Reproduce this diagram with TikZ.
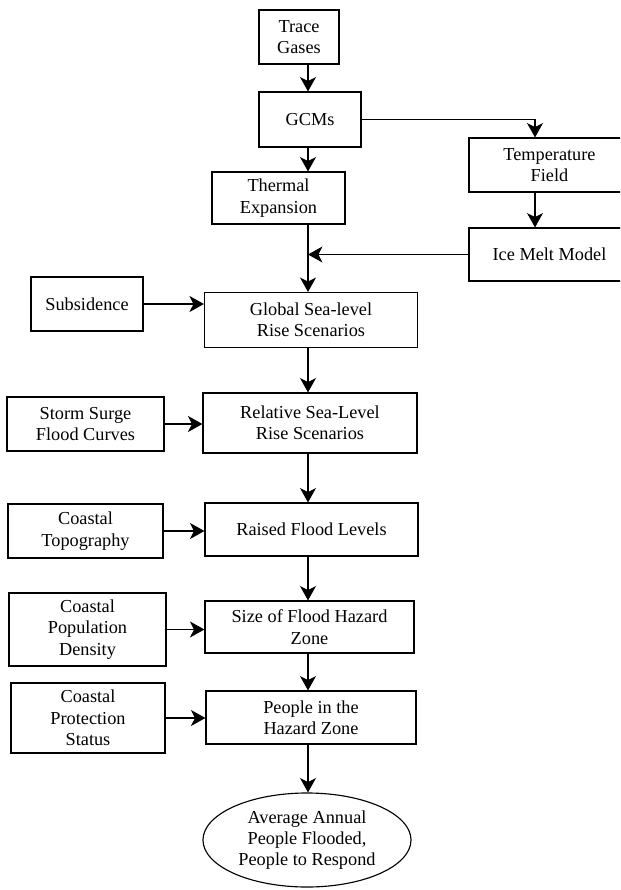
\documentclass[tikz,border=0pt]{standalone}
\usepackage{fontspec}
\setmainfont{Liberation Serif}
\usetikzlibrary{arrows.meta,shapes.geometric}

\tikzstyle{box} = [draw, line width=0.8pt, align=center, inner sep=2pt,
    font=\fontsize{13}{15.2}\selectfont]
\tikzstyle{oval} = [draw, ellipse, line width=0.8pt, align=center, inner sep=0pt,
    font=\fontsize{13}{15.2}\selectfont]
\tikzstyle{arr} = [line width=0.8pt, -{Stealth[length=3.6mm,width=4mm,inset=1mm]}]

\begin{document}
\begin{tikzpicture}[x=0.025cm, y=-0.025cm]
\clip (0,0) rectangle (620,890);
\coordinate (ax) at (308,0);
\coordinate (tx) at (535,0);

\node[box, minimum width=2cm, minimum height=1.35cm] (trace) at (299,37) {Trace\\Gases};
\node[box, minimum width=2.55cm, minimum height=1.375cm] (gcm) at (310,119.5) {GCMs};
\node[box, minimum width=3.325cm, minimum height=1.3cm] (therm) at (278.5,198) {Thermal\\Expansion};
\node[box, minimum width=4.025cm, minimum height=1.35cm] (temp) at (549.5,165) {Temperature\\Field};
\node[box, minimum width=4.025cm, minimum height=1.325cm] (ice) at (549.5,254.5) {Ice Melt Model};
\node[box, minimum width=2.8cm, minimum height=1.35cm] (subs) at (87,304) {Subsidence};
\node[box, minimum width=5.325cm, minimum height=1.375cm] (global) at (311,320) {Global Sea-level\\Rise Scenarios};
\node[box, minimum width=3.925cm, minimum height=1.35cm] (storm) at (85.5,424) {Storm Surge\\Flood Curves};
\node[box, minimum width=5.35cm, minimum height=1.5cm] (rel) at (310,423) {Relative Sea-Level\\Rise Scenarios};
\node[box, minimum width=3.875cm, minimum height=1.35cm] (topo) at (85.5,531) {Coastal\\Topography};
\node[box, minimum width=5.325cm, minimum height=1.325cm] (raised) at (311.5,529.5) {Raised Flood Levels};
\node[box, minimum width=3.925cm, minimum height=1.825cm] (dens) at (87.5,629.5) {Coastal\\Population\\Density};
\node[box, minimum width=5.225cm, minimum height=1.3cm] (size) at (309.5,627) {Size of Flood Hazard\\Zone};
\node[box, minimum width=3.85cm, minimum height=1.75cm] (prot) at (88,718) {Coastal\\Protection\\Status};
\node[box, minimum width=5.25cm, minimum height=1.325cm] (people) at (311,717.5) {People in the\\Hazard Zone};
\node[oval, minimum width=5.2cm, minimum height=2.35cm] (out) at (307,840) {Average Annual\\People Flooded,\\People to Respond};

\draw[arr] (trace.south -| ax) -- (gcm.north -| ax);
\draw[arr] (gcm.south -| ax) -- (therm.north -| ax);
\draw[arr] (gcm.east) -| (temp.north -| tx);
\draw[arr] (temp.south -| tx) -- (ice.north -| tx);
\draw[arr] (ice.west) -- (ice.west -| ax);
\draw[arr] (therm.south -| ax) -- (global.north -| ax);
\draw[arr] (subs.east) -- (subs.east -| global.west);
\draw[arr] (global.south -| ax) -- (rel.north -| ax);
\draw[arr] (storm.east) -- (storm.east -| rel.west);
\draw[arr] (rel.south -| ax) -- (raised.north -| ax);
\draw[arr] (topo.east) -- (topo.east -| raised.west);
\draw[arr] (raised.south -| ax) -- (size.north -| ax);
\draw[arr] (dens.east) -- (dens.east -| size.west);
\draw[arr] (size.south -| ax) -- (people.north -| ax);
\draw[arr] (prot.east) -- (prot.east -| people.west);
\draw[arr] (people.south -| ax) -- (out.north -| ax);
\end{tikzpicture}
\end{document}
